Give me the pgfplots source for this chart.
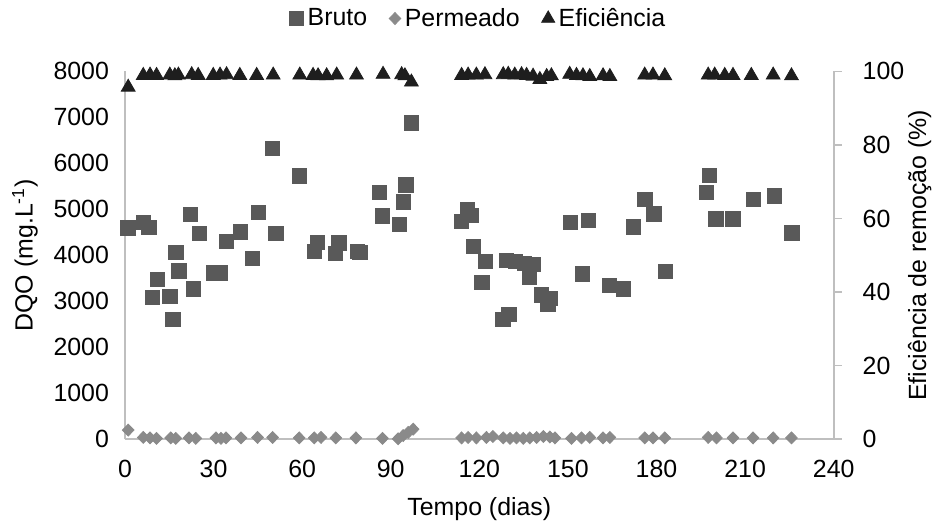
\documentclass[border=0pt]{standalone}
\usepackage{pgfplots}
\pgfplotsset{compat=1.18}
\usepackage{fontspec}
\setmainfont{Liberation Sans}

\definecolor{bruto}{HTML}{595959}
\definecolor{perm}{HTML}{8A8A8A}
\definecolor{efic}{HTML}{1E1E1E}
\definecolor{axgray}{HTML}{BFBFBF}
\newcommand{\fs}{\fontsize{12.5}{15}\selectfont}

% DQO bruto (dia, mg/L)
\pgfplotstableread{
x y
1 4600
6.2 4715
8.1 4605
9.2 3080
11.0 3472
15.2 3110
16.2 2600
17.2 4070
18.3 3660
22.1 4890
23.1 3270
25.3 4475
30.1 3620
32.2 3620
34.3 4310
39.2 4510
43.1 3935
45.1 4940
50.0 6320
51.1 4475
59.0 5730
64.1 4090
65.2 4280
71.2 4040
72.4 4270
78.8 4090
79.6 4060
86.1 5370
87.1 4860
93.0 4670
94.2 5160
95.1 5530
97.1 6880
114.0 4740
115.9 5000
117.1 4870
118.0 4190
120.9 3415
122.1 3870
128.0 2600
129.1 3890
130.0 2720
132.2 3870
135.3 3830
137.0 3520
138.2 3810
141.1 3140
143.2 2930
144.0 3070
150.9 4710
155.0 3600
156.9 4760
164.0 3340
168.8 3270
172.1 4620
176.1 5220
179.1 4900
182.9 3650
197.0 5370
197.9 5740
200.1 4790
205.9 4790
212.8 5220
220.0 5290
225.9 4490
}\bruto

% DQO permeado
\pgfplotstableread{
x y
1.1 200
6.2 40
8.5 30
10.7 20
15.5 30
17.2 20
21.7 30
24.0 20
30.8 30
32.5 20
34.2 30
39.3 30
44.9 40
50.0 40
59.0 30
64.1 30
66.4 40
71.4 30
78.2 30
87.2 20
92.5 10
94.2 80
95.9 150
97.6 220
114.0 30
116.2 40
119.0 30
122.4 40
124.6 60
128.1 30
130.4 20
132.6 30
134.9 20
137.1 30
139.4 40
141.7 60
143.9 50
145.6 30
151.2 20
154.6 30
157.4 40
161.9 30
164.2 40
176.0 30
178.8 30
182.8 30
197.5 40
200.3 30
205.9 30
212.7 30
219.5 30
225.7 30
}\permeado

% eficiencia de remocao (%)
\pgfplotstableread{
x y
1.1 95.7
6.2 98.9
8.5 99.0
10.7 98.9
15.2 99.0
16.9 98.8
18.1 99.0
22.6 99.1
24.8 98.9
29.9 98.9
32.2 99.0
34.4 99.1
38.9 98.9
44.6 98.9
50.2 99.0
59.2 99.0
63.7 98.9
65.4 98.8
68.3 98.8
71.7 99.0
78.4 99.0
87.4 99.2
93.7 99.1
94.8 98.8
97.0 97.1
114.0 98.9
116.2 99.0
119.0 99.0
121.9 99.1
128.1 99.1
129.8 99.2
132.0 99.0
134.3 99.1
136.0 98.9
138.2 98.7
140.5 97.8
142.8 98.6
144.4 98.8
150.6 99.2
152.9 98.9
155.1 98.8
157.4 98.6
161.9 98.8
164.2 98.6
176.0 99.0
178.8 99.0
182.8 98.8
197.5 99.0
199.7 99.0
203.1 98.9
205.9 98.9
212.1 98.9
219.5 99.0
225.7 98.8
}\efic

\begin{document}
\begin{tikzpicture}
\pgfplotsset{
  every axis/.append style={
    scale only axis, width=354.5bp, height=184bp,
    xmin=0, xmax=240,
    font=\fs,
    /pgf/number format/assume math mode=true,
    axis line style={axgray, line width=0.8pt},
    tick label style={font=\fs, black},
    label style={font=\fs, black},
    clip=false,
  }
}
\begin{axis}[
  axis x line*=bottom, axis y line*=left,
  ymin=0, ymax=8000,
  xtick={0,30,...,240},
  ytick={0,1000,...,8000},
  scaled y ticks=false,
  yticklabel style={/pgf/number format/1000 sep={}, xshift=-4.5bp},
  xticklabel style={yshift=-7bp},
  major tick length=0pt,
  xlabel={Tempo (dias)},
  ylabel={DQO (mg.L\textsuperscript{-1})},
  xlabel style={at={(rel axis cs:0.5,0)}, anchor=center, yshift=-35bp},
  ylabel style={at={(rel axis cs:0,0.5)}, anchor=center, yshift=50bp},
  legend style={at={(0.5,1)}, anchor=south, yshift=17bp, draw=none, fill=none,
    legend columns=-1, font=\fs,
    /tikz/every even column/.append style={column sep=9bp}},
  legend cell align=left,
]
\addplot[only marks, mark=square*, mark size=3.6pt, mark options={bruto, draw=bruto}] table[x=x,y=y] {\bruto};
\addlegendentry{Bruto}
\addplot[only marks, mark=diamond*, mark size=3pt, mark options={perm, draw=perm, xscale=1.3}] table[x=x,y=y] {\permeado};
\addlegendentry{Permeado}
\addlegendimage{only marks, mark=triangle*, mark size=3.8pt, mark options={efic, draw=efic}}
\addlegendentry{Eficiência}
\path ([shift={(-62.5bp,-41.5bp)}]rel axis cs:0,0) rectangle ([shift={(52bp,35bp)}]rel axis cs:1,1);
\end{axis}

\begin{axis}[
  axis x line=none, axis y line*=right,
  ymin=0, ymax=100,
  ytick={0,20,...,100},
  yticklabel style={xshift=7bp},
  tick align=outside,
  major tick length=4bp,
  tick style={axgray, line width=0.8pt},
  ylabel={Eficiência de remoção (\%)},
  ylabel style={at={(rel axis cs:1,0.5)}, anchor=center, yshift=-43bp},
]
\addplot[only marks, mark=triangle*, mark size=4pt, mark options={efic, draw=efic}] table[x=x,y=y] {\efic};
\end{axis}
\end{tikzpicture}
\end{document}
